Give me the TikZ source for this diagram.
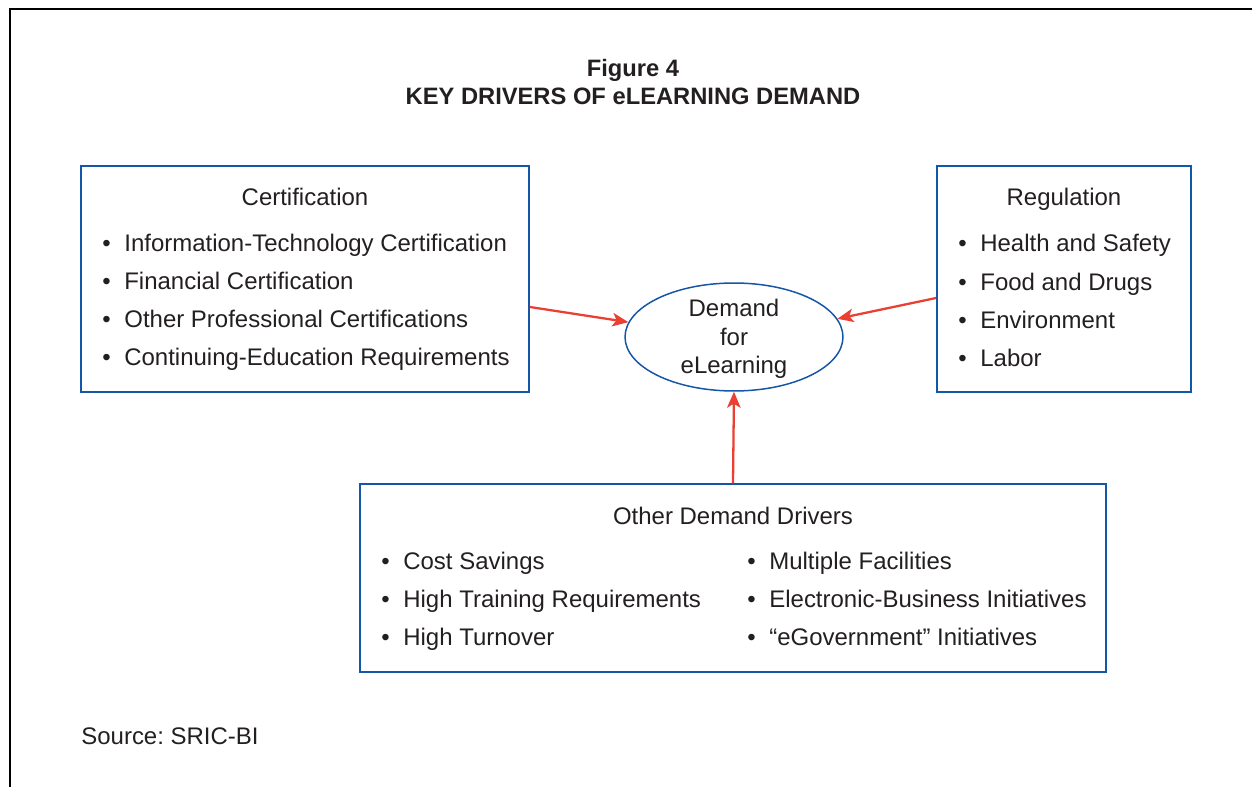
\documentclass[tikz,border=0pt]{standalone}
\usepackage{fontspec}
\setmainfont{Liberation Sans}
\usetikzlibrary{shapes.geometric,positioning,arrows.meta}
\definecolor{boxblue}{RGB}{22,86,166}
\definecolor{arrred}{RGB}{234,64,52}
\definecolor{ink}{RGB}{35,31,32}
\newcommand{\itm}[1]{\makebox[0.44cm][l]{•}#1}
\frenchspacing

\begin{document}
\begin{tikzpicture}
[x=0.02cm,y=-0.02cm,>={Stealth[length=0.32cm,width=0.27cm,inset=0.08cm]},
 every node/.style = {text=ink,font=\fontsize{13.65}{21.7}\selectfont},
 box/.style = {draw=boxblue, line width=1.1pt, rectangle, inner sep=0pt},
 lst/.style = {align=left, anchor=west, inner sep=0pt},
 head/.style = {anchor=base, inner sep=0pt},
 link/.style = {->, draw=arrred, line width=1.3pt}]
\useasboundingbox (0,0) rectangle (1252,787);
\draw[line width=0.7pt] (10,787) -- (10,9) -- (1252,9);
\node (ttl) at (633,82)[align=center,font=\fontsize{13.5}{15.9}\selectfont\bfseries] {Figure 4\\KEY DRIVERS OF eLEARNING DEMAND};
\node (cert) at (305,279)[box,minimum width=8.96cm,minimum height=4.52cm] {};
\node (reg) at (1064,279)[box,minimum width=5.08cm,minimum height=4.52cm] {};
\node (oth) at (733,578)[box,minimum width=14.92cm,minimum height=3.76cm] {};
\node (dem) at (734,337)[draw=boxblue,line width=0.85pt,ellipse,inner sep=0pt,minimum width=4.36cm,minimum height=2.16cm] {};
\node (demt) at (734,339)[align=center,inner sep=0pt,font=\fontsize{13.65}{16.2}\selectfont] {Demand\\for\\eLearning};
\node (certh) at (305,206)[head] {Certification};
\node (certl) at (102,302.5)[lst] {\itm{Information-Technology Certification}\\\itm{Financial Certification}\\\itm{Other Professional Certifications}\\\itm{Continuing-Education Requirements}};
\node (regh) at (1064,206)[head] {Regulation};
\node (regl) at (958,300.5)[lst] {\itm{Health and Safety}\\\itm{Food and Drugs}\\\itm{Environment}\\\itm{Labor}};
\node (othh) at (733,524)[head] {Other Demand Drivers};
\node (othl) at (381,601)[lst] {\itm{Cost Savings}\\\itm{High Training Requirements}\\\itm{High Turnover}};
\node (othr) at (747,599)[lst] {\itm{Multiple Facilities}\\\itm{Electronic-Business Initiatives}\\\itm{“eGovernment” Initiatives}};
\node (src) at (81,736)[anchor=west,inner sep=0pt] {Source: SRIC-BI};
\draw[link] ([yshift=-0.56cm]cert.east) -- (dem.172);
\draw[link] ([yshift=-0.38cm]reg.west) -- (dem.10);
\draw[link] (oth.north) -- (dem.south);
\end{tikzpicture}
\end{document}
